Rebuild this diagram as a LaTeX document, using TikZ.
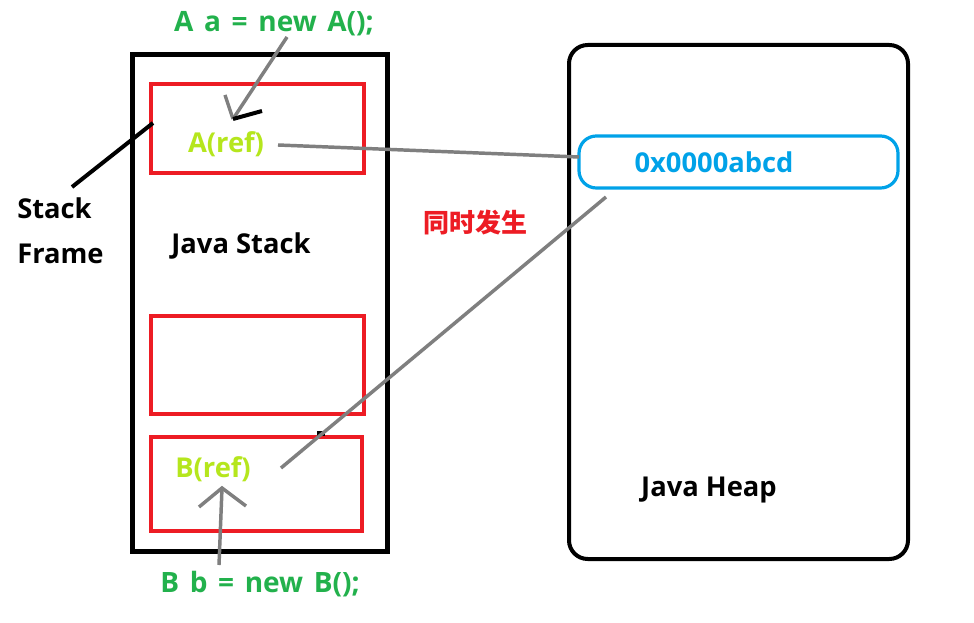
\documentclass[tikz,border=0pt]{standalone}
\usepackage{fontspec}
\setmainfont{Open Sans}
\newfontfamily\cjk{Noto Sans CJK SC}
\newcommand\codefont{\bfseries\fontsize{21}{24}\selectfont\spaceskip=0.38em\relax}
\definecolor{frameRed}{HTML}{ED1C24}
\definecolor{refGreen}{HTML}{B5E61D}
\definecolor{codeGreen}{HTML}{22B14C}
\definecolor{addrBlue}{HTML}{00A2E8}
\definecolor{lineGray}{HTML}{7F7F7F}
\begin{document}
\begin{tikzpicture}[x=0.75pt,y=-0.75pt,
  box/.style={draw,inner sep=0pt,outer sep=0pt,anchor=north west},
  stackbox/.style={box,draw=black,line width=3.75pt},
  framebox/.style={box,draw=frameRed,line width=3pt},
  heapbox/.style={box,draw=black,line width=3pt,rounded corners=14pt},
  addrbox/.style={box,draw=addrBlue,line width=2.4pt,rounded corners=13pt},
  lbl/.style={font=\bfseries\fontsize{20.5}{24}\selectfont,inner sep=0pt},
  codelbl/.style={inner sep=0pt,text=codeGreen,font=\codefont},
  conn/.style={draw=lineGray,line width=2.6pt},
  blk/.style={draw=black,line width=3pt}]
\useasboundingbox (0,0) rectangle (974,623);
\fill[white] (0,0) rectangle (974,623);

% boxes
\node[stackbox,minimum width={255*0.75pt},minimum height={496*0.75pt}] (stack) at (132,55) {};
\node[framebox,minimum width={213*0.75pt},minimum height={89*0.75pt}] (fa) at (151,84) {};
\node[framebox,minimum width={213*0.75pt},minimum height={98*0.75pt}] (fm) at (151,316) {};
\node[framebox,minimum width={211*0.75pt},minimum height={94*0.75pt}] (fb) at (151,437) {};
\node[heapbox,minimum width={339*0.75pt},minimum height={514*0.75pt}] (heap) at (569,45) {};
\node[addrbox,minimum width={319*0.75pt},minimum height={52*0.75pt}] (addr) at (579,136) {};

% texts
\node[lbl,text=addrBlue] (addrtxt) at (714,162) {0x0000abcd};
\node[lbl,text=refGreen] (aref) at (226,144) {A(ref)};
\node[lbl,text=refGreen] (bref) at (213,469) {B(ref)};
\node[codelbl] (anew) at (274,24) {A a = new A();};
\node[codelbl] (bnew) at (260,584) {B b = new B();};
\node[lbl] (jstack) at (241,246) {Java Stack};
\node[lbl] (jheap) at (709,490) {Java Heap};
\node[lbl,anchor=west] (sf1) at (17,208) {Stack};
\node[lbl,anchor=west] (sf2) at (17,254) {Frame};
\node[font=\cjk\bfseries\fontsize{19.5}{22}\selectfont,text=frameRed,inner sep=0pt] (sim) at (475,223) {同时发生};

% coordinates
\coordinate (sfA) at (72,187);
\coordinate (sfB) at (153,123);
\coordinate (aTail) at (287,37);
\coordinate (aHead) at (233,119);
\coordinate (aBarb) at (225,95);
\coordinate (aBlk) at (262,111);
\coordinate (refA) at (278,145);
\coordinate (addrL) at (579,157);
\coordinate (addrB) at (606,197);
\coordinate (refB) at (281,468);
\coordinate (bTail) at (219,565);
\coordinate (bHead) at (222,488);
\coordinate (bBarbL) at (199,507);
\coordinate (bBarbR) at (246,506);

% connectors
\draw[blk] (sfA) -- (sfB);
\draw[conn] (aTail) -- (aHead);
\draw[conn] (aBarb) -- (aHead);
\draw[blk] (aHead) -- (aBlk);
\draw[conn] (refA) -- (addrL);
\fill[black] (317,431) rectangle (325,436);
\draw[conn] (addrB) -- (refB);
\draw[conn] (bTail) -- (bHead);
\draw[conn] (bBarbL) -- (bHead) -- (bBarbR);
\end{tikzpicture}
\end{document}
